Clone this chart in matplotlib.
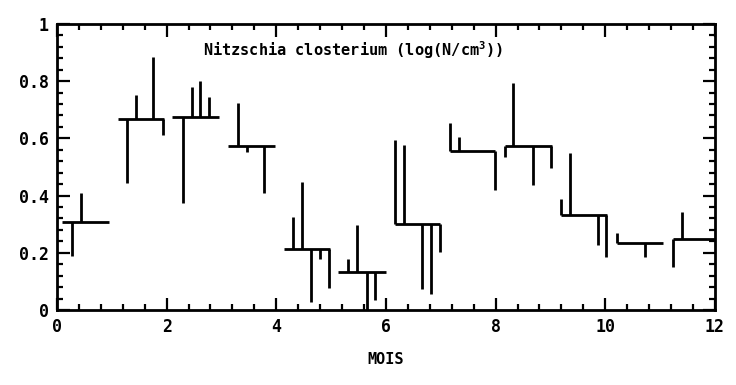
import matplotlib
matplotlib.use("Agg")
import matplotlib.pyplot as plt
from matplotlib.ticker import MultipleLocator

# Monthly mean (log N/cm3) and the span of each month's mean segment
means = [0.308, 0.667, 0.676, 0.575, 0.212, 0.134, 0.301, 0.557, 0.573, 0.332, 0.233, 0.247]
mean_start = [0.09, 1.11, 2.09, 3.12, 4.14, 5.13, 6.16, 7.17, 8.18, 9.20, 10.22, 11.24]
mean_end = [0.95, 1.96, 2.96, 3.98, 4.98, 6.00, 6.99, 7.99, 9.02, 10.03, 11.06, 12.0]

# Individual samples: dates (in months) and values
sample_x = [
    [0.27, 0.44],
    [1.27, 1.44, 1.757, 1.94],
    [2.29, 2.456, 2.61, 2.78],
    [3.31, 3.47, 3.78],
    [4.30, 4.47, 4.63, 4.80, 4.97],
    [5.31, 5.48, 5.65, 5.80],
    [6.16, 6.32, 6.65, 6.83, 6.99],
    [7.17, 7.34, 7.99],
    [8.18, 8.32, 8.69, 9.01],
    [9.20, 9.36, 9.87, 10.02],
    [10.22, 10.72],
    [11.24, 11.39],
]
sample_y = [
    [0.19, 0.41],
    [0.443, 0.752, 0.886, 0.612],
    [0.373, 0.779, 0.799, 0.744],
    [0.723, 0.553, 0.408],
    [0.326, 0.446, 0.029, 0.177, 0.076],
    [0.177, 0.297, 0.0, 0.035],
    [0.594, 0.577, 0.072, 0.056, 0.204],
    [0.653, 0.606, 0.42],
    [0.534, 0.793, 0.437, 0.495],
    [0.387, 0.548, 0.227, 0.186],
    [0.27, 0.186],
    [0.151, 0.344],
]

x_ticks = [0, 2, 4, 6, 8, 10, 12]
y_ticks = [0, 0.2, 0.4, 0.6, 0.8, 1.0]
y_tick_labels = ["0", "0.2", "0.4", "0.6", "0.8", "1"]

FONT = "DejaVu Sans Mono"
plt.rcParams["mathtext.fontset"] = "custom"
plt.rcParams["mathtext.rm"] = "DejaVu Sans Mono:bold"
plt.rcParams["mathtext.default"] = "rm"

fig = plt.figure(figsize=(7.36, 3.85), dpi=100)
ax = fig.add_axes([0.0774, 0.1948, 0.894, 0.743])

for m in range(len(means)):
    ax.hlines(means[m], mean_start[m], mean_end[m], color="black", lw=2.0,
              capstyle="butt")
    ax.vlines(sample_x[m], means[m], sample_y[m], color="black", lw=2.0)

ax.set_xlim(0, 12)
ax.set_ylim(0, 1)
ax.set_xticks(x_ticks)
ax.set_yticks(y_ticks)
ax.set_yticklabels(y_tick_labels)
ax.xaxis.set_minor_locator(MultipleLocator(0.4))
ax.yaxis.set_minor_locator(MultipleLocator(0.04))
ax.tick_params(which="both", direction="in", top=True, right=True, width=1.6,
               colors="black")
ax.tick_params(which="major", length=9, pad=6)
ax.tick_params(which="minor", length=4.5)
for lab in ax.get_xticklabels() + ax.get_yticklabels():
    lab.set_fontfamily(FONT)
    lab.set_fontweight("bold")
    lab.set_fontsize(12)
for s in ax.spines.values():
    s.set_linewidth(2.0)

ax.text(5.4, 0.91, "Nitzschia closterium (log(N/cm$^{3}$))", ha="center",
        va="center", fontfamily=FONT, fontweight="bold", fontsize=11)
ax.set_xlabel("MOIS", fontfamily=FONT, fontweight="bold", fontsize=11,
              labelpad=11)

fig.savefig("out.png", dpi=100)
